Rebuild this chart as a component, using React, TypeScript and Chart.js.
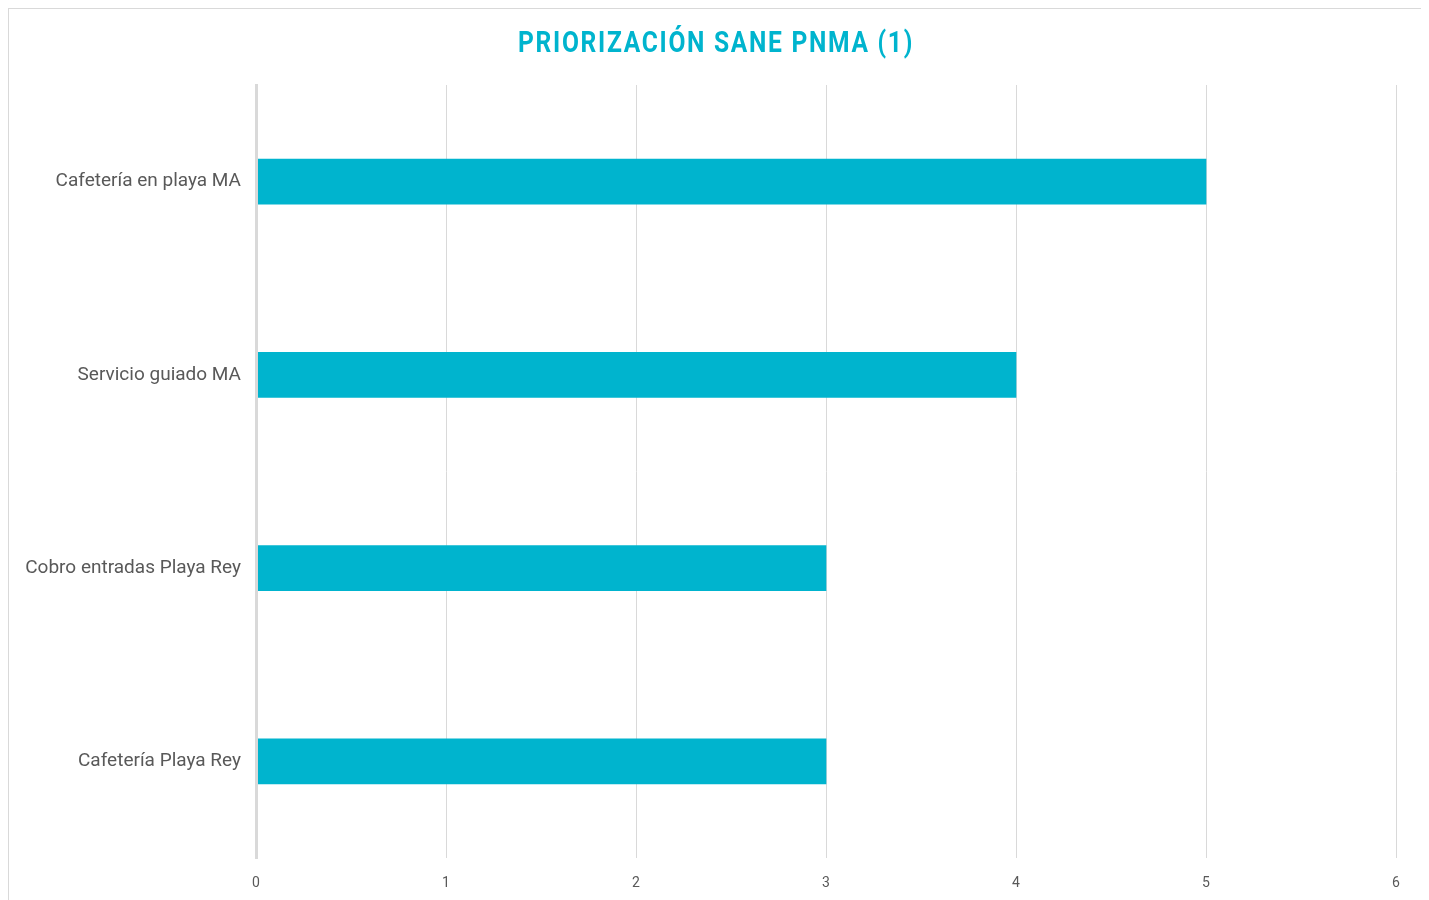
import React, { useEffect, useRef } from "react";
import { Chart, registerables } from "chart.js";

Chart.register(...registerables);

const titleText = "PRIORIZACIÓN SANE PNMA (1)";
const categories = [
  "Cafetería en playa MA",
  "Servicio guiado MA",
  "Cobro entradas Playa Rey",
  "Cafetería Playa Rey",
];
const values = [5, 4, 3, 3];
const xMin = 0;
const xMax = 6;

const CYAN = "#00B4CE";
const GRID = "#d9d9d9";
const TEXT = "#595959";
const TITLE_WIDTH = 396;

export default function App() {
  const ref = useRef<HTMLCanvasElement | null>(null);

  useEffect(() => {
    const canvas = ref.current;
    if (!canvas) return;

    const titlePlugin = {
      id: "customTitle",
      afterDraw(chart: any) {
        const ctx = chart.ctx as CanvasRenderingContext2D;
        ctx.save();
        ctx.font = "bold 29px Roboto, 'Liberation Sans', sans-serif";
        (ctx as any).letterSpacing = "2px";
        const w = ctx.measureText(titleText).width;
        const sx = Math.min(1, TITLE_WIDTH / w);
        ctx.fillStyle = CYAN;
        ctx.textAlign = "center";
        ctx.textBaseline = "middle";
        ctx.translate(chart.width / 2, 36);
        ctx.scale(sx, 1);
        ctx.fillText(titleText, 0, 0);
        ctx.restore();
      },
    };

    const chart = new Chart(canvas, {
      type: "bar",
      data: {
        labels: categories,
        datasets: [
          {
            data: values,
            backgroundColor: CYAN,
            borderWidth: 0,
            barThickness: 45,
          },
        ],
      },
      options: {
        indexAxis: "y",
        animation: false,
        responsive: false,
        maintainAspectRatio: false,
        layout: { padding: { top: 76, right: 27, left: 0, bottom: 0 } },
        plugins: {
          legend: { display: false },
          title: { display: false },
          tooltip: { enabled: false },
        },
        scales: {
          x: {
            min: xMin,
            max: xMax,
            ticks: {
              stepSize: 1,
              color: TEXT,
              padding: 17,
              font: { family: "Roboto, 'Liberation Sans', sans-serif", size: 14 },
            },
            grid: { color: GRID, lineWidth: 1, drawTicks: false },
            border: { display: false },
            afterFit(scale: any) {
              scale.height = 41;
            },
          },
          y: {
            ticks: {
              color: TEXT,
              padding: 15,
              font: { family: "Roboto, 'Liberation Sans', sans-serif", size: 19 },
            },
            grid: { display: false, drawTicks: false },
            border: { display: true, color: GRID, width: 3, z: 1 },
            afterFit(scale: any) {
              scale.width = 247;
            },
          },
        },
      },
      plugins: [titlePlugin],
    });

    return () => chart.destroy();
  }, []);

  return (
    <div
      style={{
        width: 1415,
        height: 898,
        border: "1px solid #d9d9d9",
        background: "#fff",
      }}
    >
      <canvas ref={ref} width={1414} height={890} style={{ display: "block" }} />
    </div>
  );
}
